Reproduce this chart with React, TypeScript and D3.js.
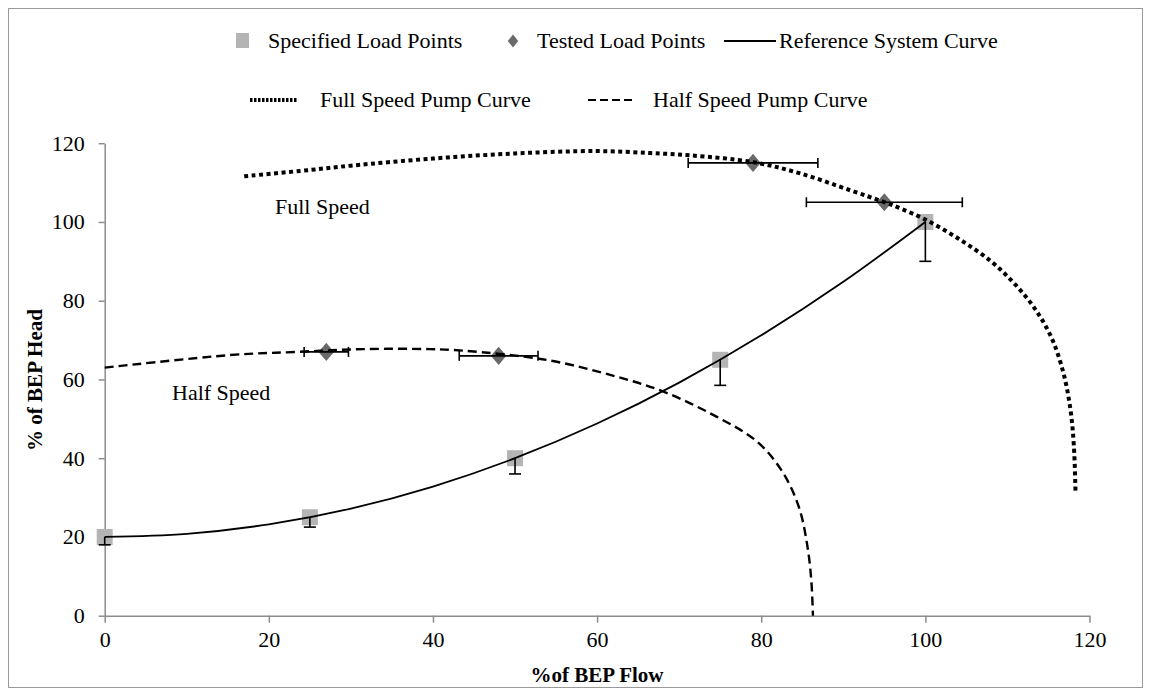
import { useEffect, useRef } from "react";
import * as d3 from "d3";

// specified load points (flow %, head %), error bar is -10% head
const specFlow = [0, 25, 50, 75, 100];
const specHead = [20, 25, 40, 65, 100];

// tested load points, error bar is +/-10% flow
const testFlow = [27, 48, 79, 95];
const testHead = [67, 66, 115, 105];

// reference system curve
const sysFlow = [0, 10, 20, 30, 40, 50, 60, 70, 80, 90, 100];
const sysHead = [20, 20.8, 23.2, 27.2, 32.8, 40, 48.8, 59.2, 71.2, 84.8, 100];

// full speed pump curve
const fullFlow = [17, 25, 30, 40, 50, 60, 66.5, 71.4, 79, 84.8, 90.9, 94.9, 97, 100, 104, 108, 111, 113.5, 115.5, 116.9, 117.7, 118.1, 118.3];
const fullHead = [111.6, 113.2, 114.3, 116.1, 117.4, 118, 117.5, 116.9, 115.2, 112.3, 108, 105.1, 103.4, 100.6, 95.8, 90, 84, 77.5, 70, 61, 52, 43, 31];

// half speed pump curve
const halfFlow = [0, 15.3, 23.4, 31.5, 39.7, 43.7, 54, 62.4, 68.1, 74.6, 79.5, 82.6, 84.6, 85.6, 86.1, 86.3];
const halfHead = [63, 66.2, 67, 67.7, 67.7, 67.3, 64.9, 60.7, 56.9, 50.5, 44.2, 36.5, 27.5, 18, 9, 0];

const ticks = [0, 20, 40, 60, 80, 100, 120];

const App = () => {
    const svgRef = useRef<SVGSVGElement>(null);

    useEffect(() => {
        const W = 1135;
        const H = 680;
        const svg = d3.select(svgRef.current);
        svg.selectAll("*").remove();
        svg.attr("width", W).attr("height", H).style("display", "block");

        const font = "Liberation Serif";

        svg.append("rect")
            .attr("x", 0.5).attr("y", 0.5)
            .attr("width", W - 1).attr("height", H - 1)
            .attr("fill", "white").attr("stroke", "#9a9a9a");

        const x = d3.scaleLinear().domain([0, 120]).range([96.7, 1081.5]);
        const y = d3.scaleLinear().domain([0, 120]).range([607.7, 135.2]);

        // axes
        const axisColor = "#8c8c8c";
        const gx = svg.append("g").attr("transform", `translate(0,${y(0)})`)
            .call(d3.axisBottom(x).tickValues(ticks).tickSize(7).tickPadding(9).tickSizeOuter(0));
        const gy = svg.append("g").attr("transform", `translate(${x(0)},0)`)
            .call(d3.axisLeft(y).tickValues(ticks).tickSize(6).tickPadding(14).tickSizeOuter(0));
        [gx, gy].forEach((g) => {
            g.attr("font-family", font).attr("font-size", 22);
            g.selectAll("path, line").attr("stroke", axisColor).attr("stroke-width", 1.5);
            g.selectAll("text").attr("fill", "#000");
        });

        const line = d3.line<[number, number]>()
            .x((d) => x(d[0]))
            .y((d) => y(d[1]))
            .curve(d3.curveMonotoneX);
        const pumpLine = d3.line<[number, number]>()
            .x((d) => x(d[0]))
            .y((d) => y(d[1]))
            .curve(d3.curveCatmullRom.alpha(0.5));

        // markers
        const sq = 16;
        svg.append("g").selectAll("rect")
            .data(specFlow.map((f, i) => [f, specHead[i]]))
            .enter().append("rect")
            .attr("x", (d) => x(d[0]) - sq / 2)
            .attr("y", (d) => y(d[1]) - sq / 2)
            .attr("width", sq).attr("height", sq)
            .attr("fill", "#b4b4b4");

        const diamond = d3.symbol().type(d3.symbolDiamond2).size(190);
        svg.append("g").selectAll("path")
            .data(testFlow.map((f, i) => [f, testHead[i]]))
            .enter().append("path")
            .attr("d", diamond)
            .attr("transform", (d) => `translate(${x(d[0])},${y(d[1])}) scale(0.9,1.05)`)
            .attr("fill", "#6a6a6a");

        // error bars
        const eb = svg.append("g").attr("stroke", "#000").attr("stroke-width", 1.6).attr("fill", "none");
        specFlow.forEach((f, i) => {
            const h = specHead[i];
            const lo = h * 0.9;
            eb.append("line").attr("x1", x(f)).attr("x2", x(f)).attr("y1", y(h)).attr("y2", y(lo));
            eb.append("line").attr("x1", x(f) - 6).attr("x2", x(f) + 6).attr("y1", y(lo)).attr("y2", y(lo));
        });
        testFlow.forEach((f, i) => {
            const h = testHead[i];
            const a = f * 0.9;
            const b = f * 1.1;
            eb.append("line").attr("x1", x(a)).attr("x2", x(b)).attr("y1", y(h)).attr("y2", y(h));
            eb.append("line").attr("x1", x(a)).attr("x2", x(a)).attr("y1", y(h) - 5).attr("y2", y(h) + 5);
            eb.append("line").attr("x1", x(b)).attr("x2", x(b)).attr("y1", y(h) - 5).attr("y2", y(h) + 5);
        });

        // curves
        svg.append("path")
            .attr("d", line(sysFlow.map((f, i) => [f, sysHead[i]]))!)
            .attr("fill", "none").attr("stroke", "#000").attr("stroke-width", 1.8);
        svg.append("path")
            .attr("d", pumpLine(halfFlow.map((f, i) => [f, halfHead[i]]))!)
            .attr("fill", "none").attr("stroke", "#000").attr("stroke-width", 2.4)
            .attr("stroke-dasharray", "9,5");
        svg.append("path")
            .attr("d", pumpLine(fullFlow.map((f, i) => [f, fullHead[i]]))!)
            .attr("fill", "none").attr("stroke", "#000").attr("stroke-width", 4)
            .attr("stroke-dasharray", "4,3.5");

        // annotations
        const txt = (tx: number, ty: number, s: string, extra: Record<string, string | number> = {}) => {
            const t = svg.append("text").attr("x", tx).attr("y", ty).text(s)
                .attr("font-family", font).attr("font-size", 22).attr("fill", "#000");
            Object.entries(extra).forEach(([k, v]) => t.attr(k, v));
            return t;
        };
        txt(267, 206, "Full Speed");
        txt(164, 392, "Half Speed");

        // axis titles
        txt(589, 674, "%of BEP Flow", { "text-anchor": "middle", "font-weight": "bold", "font-size": 21 });
        txt(0, 0, "% of BEP Head", { "text-anchor": "middle", "font-weight": "bold", "font-size": 21, transform: "translate(34,372) rotate(-90)" });

        // legend row 1
        const ly1 = 40;
        svg.append("rect").attr("x", 228).attr("y", ly1 - 15).attr("width", 13).attr("height", 15).attr("fill", "#b4b4b4");
        txt(260, ly1, "Specified Load Points");
        svg.append("path").attr("d", diamond)
            .attr("transform", `translate(505,${ly1 - 7}) scale(0.6,0.75)`)
            .attr("fill", "#6a6a6a");
        txt(529, ly1, "Tested Load Points");
        svg.append("line").attr("x1", 716).attr("x2", 768).attr("y1", ly1 - 7).attr("y2", ly1 - 7)
            .attr("stroke", "#000").attr("stroke-width", 1.8);
        txt(771, ly1, "Reference System Curve");

        // legend row 2
        const ly2 = 99;
        svg.append("line").attr("x1", 242).attr("x2", 290).attr("y1", ly2 - 7).attr("y2", ly2 - 7)
            .attr("stroke", "#000").attr("stroke-width", 4).attr("stroke-dasharray", "2.5,1.5");
        txt(312, ly2, "Full Speed Pump Curve");
        svg.append("line").attr("x1", 580).attr("x2", 625).attr("y1", ly2 - 7).attr("y2", ly2 - 7)
            .attr("stroke", "#000").attr("stroke-width", 2).attr("stroke-dasharray", "8,4");
        txt(645, ly2, "Half Speed Pump Curve");
    }, []);

    return <svg ref={svgRef} />;
};

export default App;
